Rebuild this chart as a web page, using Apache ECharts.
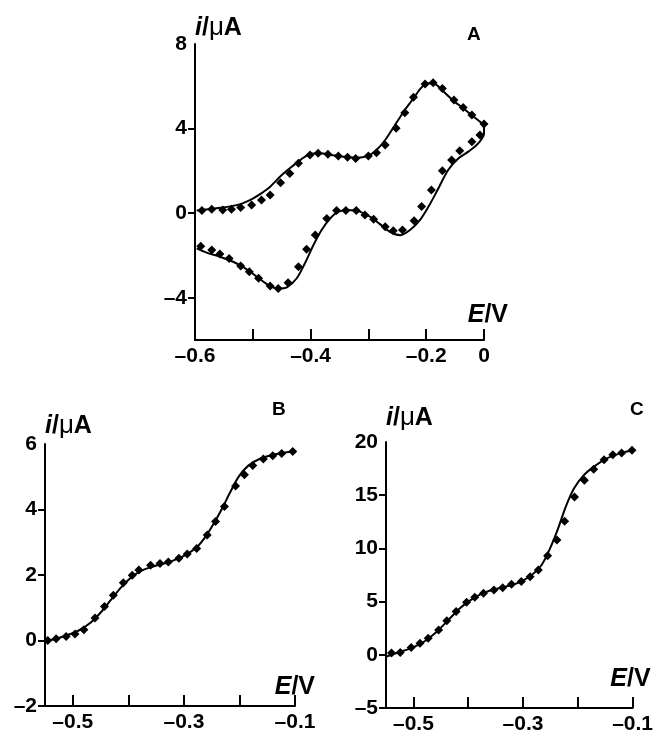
<!DOCTYPE html>
<html>
<head>
<meta charset="utf-8">
<script src="https://cdn.jsdelivr.net/npm/echarts@6/dist/echarts.min.js"></script>
<style>
  html, body { margin: 0; background: #fff; }
  #chart { width: 656px; height: 736px; }
</style>
</head>
<body>
<div id="chart"></div>
<script>
// A: cyclic voltammogram, forward scan then reverse scan
const aSimE = [-0.597, -0.563, -0.528, -0.505, -0.488, -0.470, -0.453, -0.436, -0.418, -0.401, -0.384, -0.364, -0.343, -0.320, -0.300, -0.286, -0.271, -0.254, -0.237, -0.222, -0.208, -0.196, -0.185, -0.170, -0.153, -0.136, -0.118, -0.104, -0.100,
  -0.100, -0.110, -0.127, -0.144, -0.162, -0.182, -0.196, -0.211, -0.228, -0.245, -0.263, -0.280, -0.297, -0.315, -0.335, -0.352, -0.366, -0.381, -0.395, -0.410, -0.424, -0.441, -0.456, -0.473, -0.493, -0.513, -0.534, -0.557, -0.580, -0.597];
const aSimI = [0.12, 0.23, 0.38, 0.62, 0.89, 1.25, 1.72, 2.12, 2.51, 2.80, 2.83, 2.75, 2.67, 2.62, 2.72, 2.99, 3.46, 4.17, 4.88, 5.43, 5.95, 6.14, 6.11, 5.75, 5.32, 4.96, 4.56, 4.25, 4.01,
  3.77, 3.30, 2.91, 2.60, 2.04, 1.01, 0.31, -0.33, -0.80, -1.04, -0.88, -0.52, -0.17, 0.07, 0.15, 0.07, -0.25, -0.80, -1.51, -2.38, -3.08, -3.51, -3.57, -3.40, -3.01, -2.61, -2.30, -2.06, -1.87, -1.67];
const aExpE = [-0.588, -0.571, -0.552, -0.537, -0.521, -0.502, -0.485, -0.470, -0.452, -0.436, -0.421, -0.401, -0.387, -0.370, -0.352, -0.336, -0.322, -0.300, -0.286, -0.271, -0.252, -0.237, -0.222, -0.202, -0.188, -0.172, -0.152, -0.136, -0.121, -0.100,
  -0.107, -0.121, -0.142, -0.156, -0.172, -0.191, -0.208, -0.221, -0.241, -0.257, -0.271, -0.291, -0.306, -0.321, -0.339, -0.355, -0.372, -0.392, -0.407, -0.421, -0.439, -0.456, -0.470, -0.490, -0.506, -0.521, -0.541, -0.557, -0.571, -0.590];
const aExpI = [0.12, 0.18, 0.15, 0.18, 0.27, 0.38, 0.62, 0.86, 1.44, 1.88, 2.36, 2.75, 2.83, 2.78, 2.70, 2.64, 2.59, 2.70, 2.86, 3.22, 4.01, 4.75, 5.48, 6.11, 6.17, 5.90, 5.35, 5.00, 4.64, 4.22,
  3.70, 3.38, 2.95, 2.51, 2.01, 1.09, 0.31, -0.36, -0.80, -0.83, -0.64, -0.29, -0.09, 0.12, 0.12, 0.12, -0.25, -1.03, -1.71, -2.53, -3.29, -3.56, -3.45, -3.08, -2.77, -2.50, -2.14, -1.93, -1.74, -1.56];

// B: steady-state wave
const bSimE = [-0.548, -0.521, -0.491, -0.467, -0.449, -0.431, -0.413, -0.396, -0.378, -0.357, -0.336, -0.315, -0.294, -0.276, -0.261, -0.246, -0.231, -0.216, -0.201, -0.184, -0.163, -0.139, -0.115, -0.100];
const bSimI = [-0.02, 0.10, 0.29, 0.56, 0.87, 1.25, 1.62, 1.91, 2.12, 2.25, 2.35, 2.47, 2.64, 2.86, 3.17, 3.58, 4.04, 4.55, 5.01, 5.34, 5.55, 5.67, 5.75, 5.78];
const bExpE = [-0.545, -0.530, -0.512, -0.496, -0.480, -0.460, -0.443, -0.427, -0.409, -0.393, -0.381, -0.360, -0.343, -0.328, -0.309, -0.294, -0.277, -0.258, -0.243, -0.227, -0.207, -0.191, -0.176, -0.157, -0.140, -0.124, -0.104];
const bExpI = [0.00, 0.05, 0.12, 0.20, 0.33, 0.69, 1.04, 1.38, 1.76, 1.99, 2.15, 2.30, 2.35, 2.40, 2.51, 2.64, 2.81, 3.22, 3.63, 4.09, 4.72, 5.06, 5.34, 5.54, 5.64, 5.71, 5.77];

// C: steady-state wave, larger current
const cSimE = [-0.549, -0.528, -0.504, -0.480, -0.457, -0.436, -0.415, -0.397, -0.376, -0.356, -0.332, -0.308, -0.284, -0.266, -0.252, -0.237, -0.222, -0.207, -0.189, -0.171, -0.148, -0.124, -0.100];
const cSimI = [-0.16, 0.22, 0.63, 1.25, 2.19, 3.28, 4.38, 5.09, 5.72, 6.09, 6.41, 6.78, 7.50, 8.44, 9.84, 11.72, 13.91, 15.63, 16.88, 17.66, 18.44, 18.91, 19.22];
const cExpE = [-0.540, -0.524, -0.504, -0.488, -0.473, -0.454, -0.439, -0.422, -0.403, -0.388, -0.372, -0.353, -0.337, -0.321, -0.303, -0.287, -0.272, -0.255, -0.238, -0.224, -0.206, -0.188, -0.171, -0.152, -0.136, -0.120, -0.101];
const cExpI = [0.16, 0.22, 0.69, 1.09, 1.56, 2.34, 3.19, 4.06, 4.94, 5.41, 5.78, 6.09, 6.31, 6.63, 6.88, 7.34, 7.97, 9.31, 10.78, 12.56, 14.84, 16.41, 17.44, 18.34, 18.81, 18.97, 19.22];

// tick positions and labels
const xTicks = [-0.5, -0.4, -0.3, -0.2, -0.1];
const aXLabelVals = [-0.6, -0.4, -0.2, -0.1];
const aXLabels = ['–0.6', '–0.4', '–0.2', '0'];
const bcXLabelVals = [-0.5, -0.3, -0.1];
const bcXLabels = ['–0.5', '–0.3', '–0.1'];
const aYLabels = [-4, 0, 4, 8];
const bYLabels = [-2, 0, 2, 4, 6];
const cYLabels = [-5, 0, 5, 10, 15, 20];
const panelNames = ['A', 'B', 'C'];

const FONT = '"Liberation Sans", Arial, sans-serif';
const pts = (xs, ys) => xs.map((x, k) => [x, ys[k]]);
const dash = (v) => String(v).replace('-', '–');

const nameRich = (size) => ({
  it: { fontFamily: FONT, fontSize: size, fontWeight: 'bold', fontStyle: 'italic', color: '#000' },
  b: { fontFamily: FONT, fontSize: size, fontWeight: 'bold', color: '#000' },
  n: { fontFamily: FONT, fontSize: size + 1, color: '#000' },
});

const axisLine = { show: true, onZero: false, lineStyle: { color: '#000', width: 2 } };

function makeX(grid, min, labelVals, labels, gap, lift) {
  return {
    type: 'value', gridIndex: grid, min: min, max: -0.1, position: 'bottom',
    splitLine: { show: false },
    axisLine: axisLine,
    axisTick: { show: true, inside: true, length: 11, customValues: xTicks, lineStyle: { color: '#000', width: 2 } },
    axisLabel: {
      customValues: labelVals, margin: 6,
      fontFamily: FONT, fontSize: 21, fontWeight: 'bold', color: '#000',
      formatter: (v) => labels[labelVals.findIndex((u) => Math.abs(u - v) < 1e-6)] ?? '',
    },
    name: '{it|E}{b|/V}', nameLocation: 'end', nameGap: gap,
    nameTextStyle: { align: 'right', verticalAlign: 'bottom', padding: [0, 0, lift, 0], rich: nameRich(25) },
  };
}

function makeY(grid, min, max, labelVals, gap) {
  return {
    type: 'value', gridIndex: grid, min: min, max: max, position: 'left',
    splitLine: { show: false },
    axisLine: axisLine,
    axisTick: { show: true, length: 7, customValues: labelVals.filter((v) => v !== max), lineStyle: { color: '#000', width: 2 } },
    axisLabel: { customValues: labelVals, margin: 8, fontFamily: FONT, fontSize: 21, fontWeight: 'bold', color: '#000', formatter: dash },
    name: '{it|i}{b|/}{n|μ}{b|A}', nameLocation: 'end', nameGap: gap,
    nameTextStyle: { align: 'left', verticalAlign: 'bottom', rich: nameRich(25) },
  };
}

const lineSeries = (idx, data) => ({
  type: 'line', xAxisIndex: idx, yAxisIndex: idx, data: data,
  showSymbol: false, smooth: 0.3, lineStyle: { color: '#000', width: 2 }, z: 2,
});
const dotSeries = (idx, data) => ({
  type: 'scatter', xAxisIndex: idx, yAxisIndex: idx, data: data,
  symbol: 'diamond', symbolSize: 9, itemStyle: { color: '#000', opacity: 1 }, z: 3,
});

const chart = echarts.init(document.getElementById('chart'));
chart.setOption({
  backgroundColor: '#fff',
  animation: false,
  title: [
    { text: panelNames[0], left: 467, top: 25 },
    { text: panelNames[1], left: 272, top: 400 },
    { text: panelNames[2], left: 630, top: 400 },
  ].map((t) => ({ ...t, padding: 0, textStyle: { fontFamily: FONT, fontSize: 19, fontWeight: 'bold', color: '#000' } })),
  grid: [
    { left: 195, top: 44, width: 289, height: 296 },
    { left: 45, top: 444, width: 250, height: 262 },
    { left: 386, top: 442, width: 251, height: 266 },
  ],
  xAxis: [
    makeX(0, -0.6, aXLabelVals, aXLabels, 24, 12),
    makeX(1, -0.55, bcXLabelVals, bcXLabels, 20, 6),
    makeX(2, -0.55, bcXLabelVals, bcXLabels, 18, 16),
  ],
  yAxis: [
    makeY(0, -6, 8, aYLabels, 3),
    makeY(1, -2, 6, bYLabels, 5),
    makeY(2, -5, 20, cYLabels, 11),
  ],
  series: [
    lineSeries(0, pts(aSimE, aSimI)),
    dotSeries(0, pts(aExpE, aExpI)),
    lineSeries(1, pts(bSimE, bSimI)),
    dotSeries(1, pts(bExpE, bExpI)),
    lineSeries(2, pts(cSimE, cSimI)),
    dotSeries(2, pts(cExpE, cExpI)),
  ],
});
</script>
</body>
</html>
